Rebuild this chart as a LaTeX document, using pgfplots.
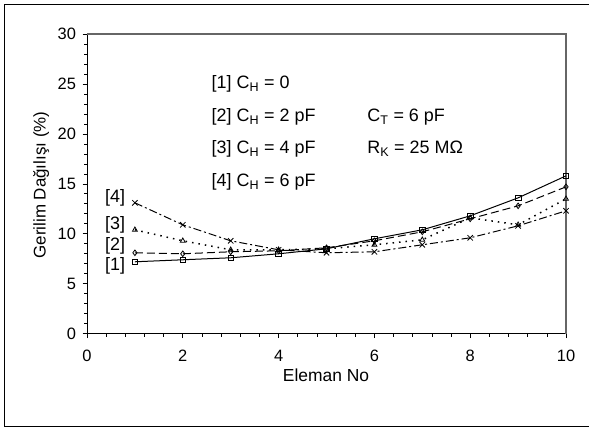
\documentclass[border=0pt]{standalone}
\usepackage{pgfplots}
\pgfplotsset{compat=1.18}
\usepackage{fontspec}
\setmainfont{Liberation Sans}
\begin{document}
\begin{tikzpicture}[x=1bp,y=1bp]
\useasboundingbox (0,0) rectangle (589,428);
\draw[line width=1.2bp] (589,423.5) -- (4.5,423.5) -- (4.5,1.5) -- (589,1.5);
\node[font=\fontsize{17.5}{19}\selectfont, anchor=base] at (326,47) {Eleman No};
\node[font=\fontsize{17}{19}\selectfont, rotate=90, anchor=base] at (45.5,243) {Gerilim Dağılışı (\%)};
\begin{axis}[
  at={(87bp,94.3bp)}, anchor=south west,
  width=479bp, height=299.7bp, scale only axis,
  xmin=0, xmax=10, ymin=0, ymax=30,
  axis x line*=bottom, axis y line*=left,
  axis line style={line width=0.8bp},
  xtick={0,2,...,10}, ytick={0,5,...,30},
  minor x tick num=4, minor y tick num=4,
  tick align=outside,
  major tick length=4.5bp, minor tick length=3bp,
  tick style={black, line width=0.7bp},
  tick label style={font=\fontsize{16.5}{18}\selectfont},
  xticklabel style={yshift=-8bp},
  yticklabel style={xshift=-3bp},
  /pgf/number format/assume math mode=true,
  clip=false,
  every axis plot/.append style={line width=1bp, mark size=2.8bp},
]
\draw[gray!80!black, line width=1.2bp] (axis cs:0,30) -- (axis cs:10,30) -- (axis cs:10,0);
\addplot[black, solid, mark=square, mark options={solid, line width=0.8bp}] coordinates {
 (1,7.2) (2,7.4) (3,7.6) (4,8.0) (5,8.5) (6,9.5) (7,10.4) (8,11.8) (9,13.6) (10,15.8)};
\addplot[black, dash pattern=on 8bp off 4bp, mark=diamond, mark options={solid, line width=0.8bp}] coordinates {
 (1,8.1) (2,8.0) (3,8.2) (4,8.3) (5,8.6) (6,9.3) (7,10.2) (8,11.5) (9,12.8) (10,14.7)};
\addplot[black, line width=1.5bp, dash pattern=on 1.5bp off 5bp, mark=triangle, mark options={solid, line width=0.8bp}] coordinates {
 (1,10.4) (2,9.3) (3,8.4) (4,8.4) (5,8.5) (6,8.9) (7,9.4) (8,11.6) (9,10.9) (10,13.5)};
\addplot[black, dash pattern=on 8bp off 3bp on 2bp off 3bp, mark=x, mark size=3.8bp, mark options={solid, line width=0.8bp}] coordinates {
 (1,13.1) (2,10.9) (3,9.3) (4,8.4) (5,8.1) (6,8.2) (7,8.9) (8,9.6) (9,10.8) (10,12.3)};
\begin{scope}[every node/.style={font=\fontsize{18}{20}\selectfont, inner sep=0pt}]
\node[anchor=west] at (axis cs:2.6,25.0) {[1] C\textsubscript{H} = 0};
\node[anchor=west] at (axis cs:2.6,21.7) {[2] C\textsubscript{H} = 2 pF};
\node[anchor=west] at (axis cs:2.6,18.5) {[3] C\textsubscript{H} = 4 pF};
\node[anchor=west] at (axis cs:2.6,15.2) {[4] C\textsubscript{H} = 6 pF};
\node[anchor=west] at (axis cs:5.85,21.7) {C\textsubscript{T} = 6 pF};
\node[anchor=west] at (axis cs:5.85,18.5) {R\textsubscript{K} = 25 MΩ};
\node[anchor=east] at (axis cs:0.8,13.6) {[4]};
\node[anchor=east] at (axis cs:0.8,10.9) {[3]};
\node[anchor=east] at (axis cs:0.8,8.8) {[2]};
\node[anchor=east] at (axis cs:0.8,6.8) {[1]};
\end{scope}
\end{axis}
\end{tikzpicture}
\end{document}
